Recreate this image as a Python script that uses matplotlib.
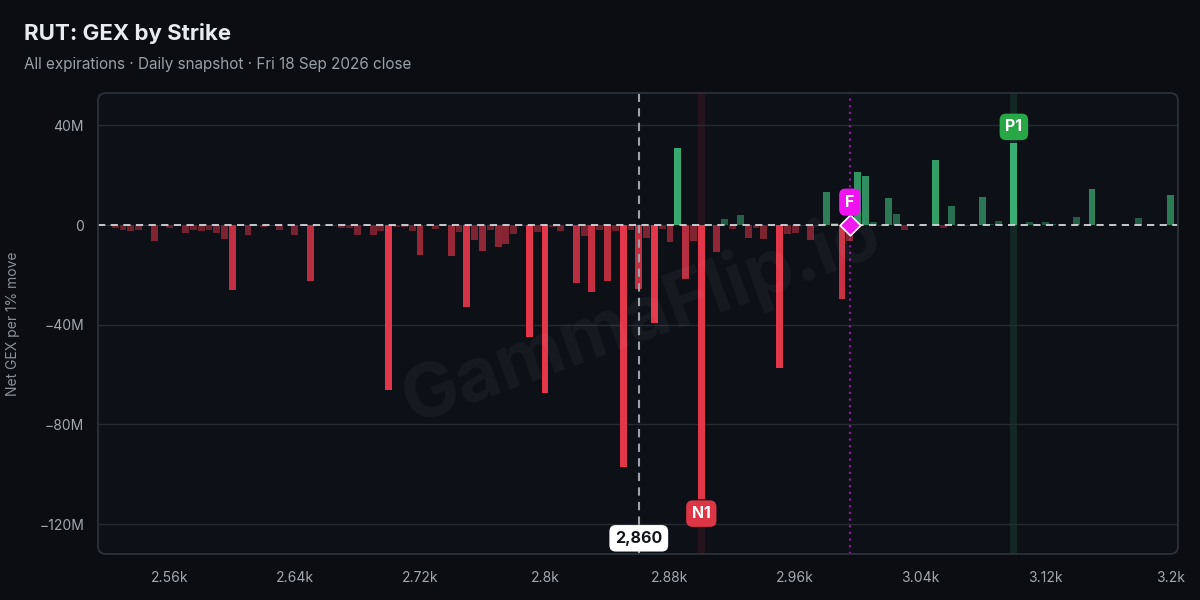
import numpy as np
import matplotlib
matplotlib.use("Agg")
import matplotlib.pyplot as plt
from matplotlib.patches import FancyBboxPatch
from matplotlib.transforms import IdentityTransform
from matplotlib.colors import to_rgba

plt.rcParams['font.family'] = ['Inter', 'DejaVu Sans']

# strikes every 5 points, net GEX in millions per 1% move
strikes = np.arange(2520, 3205, 5)
gex = [
    -0.4, -1.0, -1.9, -2.3, -1.9, -0.5, -6.2, -0.3, -1.1, -0.3,
    -3.3, -2.1, -2.5, -2.1, -3.3, -5.4, -26.0, -0.5, -4.0, -0.3,
    -0.9, -0.3, -2.1, 0.0, -4.1, -0.3, -22.5, -0.3, -0.5, -0.3,
    -1.2, -1.2, -4.1, -0.4, -4.1, -2.4, -66.0, -0.8, -0.9, -2.4,
    -11.9, -0.4, -1.4, -0.4, -12.3, -2.8, -32.8, -5.9, -10.3, -1.9,
    -8.7, -7.5, -3.5, -0.3, -44.8, -2.7, -67.2, -0.7, -2.3, -0.3,
    -23.2, -4.2, -26.8, -1.9, -22.4, -2.3, -97.0, -1.9, -25.7, -5.0,
    -39.3, -1.7, -6.9, 30.9, -21.8, -6.3, -109.8, -0.3, -10.7, 2.6,
    -1.7, 4.2, -5.3, -1.0, -5.7, -0.3, -57.3, -3.7, -3.3, -0.3,
    -6.0, -0.3, 13.4, 0.9, -29.5, -6.5, 21.1, 19.5, 1.2, -0.3,
    11.0, 4.6, -1.9, 0.0, -0.4, 0.0, 26.0, -1.2, 7.6, -0.3,
    -0.3, 0.0, 11.2, 0.3, 1.7, 0.0, 32.9, 0.0, 1.2, 0.0,
    1.2, 0.3, 0.0, 0.0, 3.2, 0.0, 14.5, 0.0, 0.0, 0.0,
    0.0, 0.0, 2.7, 0.0, 0.0, 0.0, 12.0,
]
gex = np.array(gex)

spot = 2860
flip = 2995
n1_strike = 2900
p1_strike = 3100

x_ticks = [2560, 2640, 2720, 2800, 2880, 2960, 3040, 3120, 3200]
x_tick_labels = ["2.56k", "2.64k", "2.72k", "2.8k", "2.88k", "2.96k", "3.04k", "3.12k", "3.2k"]
y_ticks = [40, 0, -40, -80, -120]
y_tick_labels = ["40M", "0", "\u221240M", "\u221280M", "\u2212120M"]

RED = "#e2364a"
GREEN = "#3cb878"
BG = "#0b0d12"
PANEL = "#0d1017"

fig = plt.figure(figsize=(12, 6), dpi=100, facecolor=BG)
ax = fig.add_axes([98 / 1200, 46 / 600, 1080 / 1200, 461 / 600])
ax.set_facecolor(PANEL)

# bar colours fade with size
colors = []
for v in gex:
    a = 0.36 + 0.64 * min(1.0, abs(v) / 38) ** 0.7
    colors.append(to_rgba(GREEN if v > 0 else RED, a))

# highlight strips for N1 / P1
ax.axvspan(n1_strike - 2.2, n1_strike + 2.2, color=RED, alpha=0.12, lw=0, zorder=0)
ax.axvspan(p1_strike - 2.2, p1_strike + 2.2, color=GREEN, alpha=0.14, lw=0, zorder=0)

ax.bar(strikes, gex, width=4.4, color=colors, zorder=2)

for yt in [40, -40, -80, -120]:
    ax.axhline(yt, color="#262a31", lw=1, zorder=1)
ax.axhline(0, color="#d4d7dc", lw=1.3, ls=(0, (4, 3)), zorder=3)

ax.axvline(spot, color="#9ea3ab", lw=1.5, ls=(0, (4, 3)), zorder=4)
ax.axvline(flip, color="#8c1c94", lw=1.6, ls=(0, (1, 2)), zorder=1)

ax.set_xlim(2514, 3205)
ax.set_ylim(-132, 53)
ax.set_xticks(x_ticks)
ax.set_xticklabels(x_tick_labels)
ax.set_yticks(y_ticks)
ax.set_yticklabels(y_tick_labels)
ax.tick_params(colors="#a3a8b0", labelsize=10, length=0, pad=10)
ax.tick_params(axis="x", pad=12)
for s in ax.spines.values():
    s.set_visible(False)
ax.set_ylabel("Net GEX per 1% move", color="#8c9199", fontsize=10, labelpad=14)

# watermark
fig.text(0.535, 0.47, "GammaFlip.io", fontsize=54, fontweight="bold", color="white",
         alpha=0.045, rotation=20, ha="center", va="center")

# flip marker and labels
ax.scatter([flip], [0], marker="D", s=110, color="#f012f0", edgecolor="white", lw=1.2, zorder=6)
ax.text(flip, 9.2, "F", ha="center", va="center", color="white", fontsize=11.5, fontweight="bold",
        zorder=7, bbox=dict(boxstyle="round,pad=0.38,rounding_size=0.4", fc="#f012f0", ec="none"))

n1_val = gex[list(strikes).index(n1_strike)]
p1_val = gex[list(strikes).index(p1_strike)]
ax.text(n1_strike, n1_val - 6, "N1", ha="center", va="center", color="white", fontsize=11.5,
        fontweight="bold", zorder=7,
        bbox=dict(boxstyle="round,pad=0.36,rounding_size=0.4", fc="#dc3545", ec="none"))
ax.text(p1_strike, p1_val + 6.5, "P1", ha="center", va="center", color="white", fontsize=11.5,
        fontweight="bold", zorder=7,
        bbox=dict(boxstyle="round,pad=0.36,rounding_size=0.4", fc="#28a745", ec="none"))
ax.text(spot, -125.7, f"{spot:,}", ha="center", va="center", color="#111418", fontsize=11.5,
        fontweight="bold", zorder=7,
        bbox=dict(boxstyle="round,pad=0.36,rounding_size=0.4", fc="white", ec="none"))

# rounded panel border
border = FancyBboxPatch((98, 46), 1080, 461, boxstyle="round,pad=0,rounding_size=8",
                        transform=IdentityTransform(), fc="none", ec="#2c3038", lw=1.3)
fig.add_artist(border)

fig.text(24 / 1200, 1 - 33 / 600, "RUT: GEX by Strike", fontsize=16, fontweight="bold",
         color="#e8ebef", va="center")
fig.text(24 / 1200, 1 - 64 / 600, "All expirations \u00b7 Daily snapshot \u00b7 Fri 18 Sep 2026 close",
         fontsize=11, color="#9aa0a8", va="center")

fig.savefig("out.png", dpi=100, facecolor=BG)
